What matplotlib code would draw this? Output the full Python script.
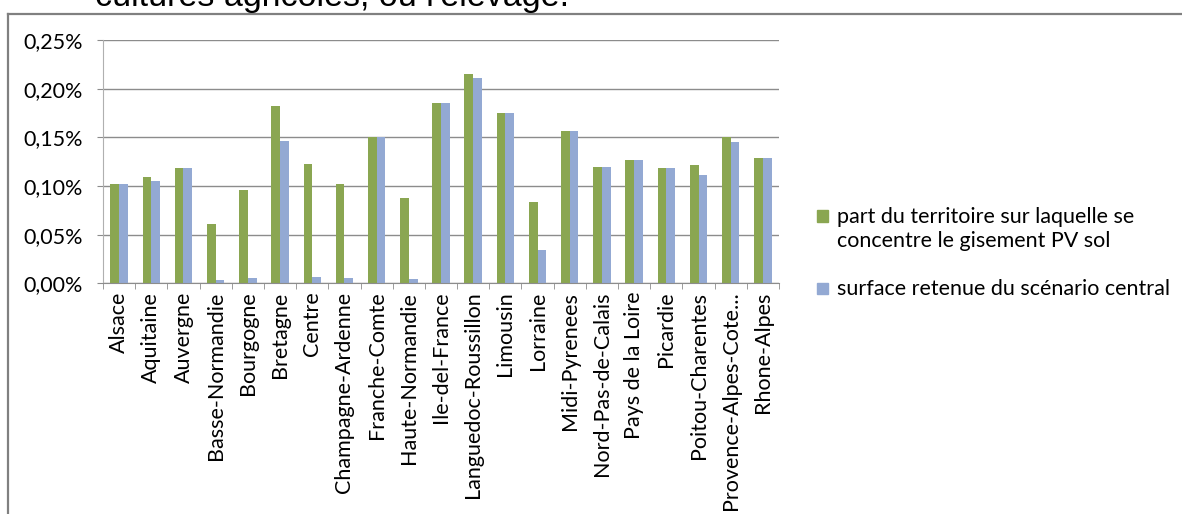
import numpy as np
import matplotlib
matplotlib.use("Agg")
import matplotlib.pyplot as plt
from matplotlib.lines import Line2D
from matplotlib.patches import Rectangle
from matplotlib.ticker import FuncFormatter, FixedLocator

regions = ["Alsace", "Aquitaine", "Auvergne", "Basse-Normandie", "Bourgogne",
           "Bretagne", "Centre", "Champagne-Ardenne", "Franche-Comte",
           "Haute-Normandie", "Ile-del-France", "Languedoc-Roussillon",
           "Limousin", "Lorraine", "Midi-Pyrenees", "Nord-Pas-de-Calais",
           "Pays de la Loire", "Picardie", "Poitou-Charentes",
           "Provence-Alpes-Cote...", "Rhone-Alpes"]
# values in %
part_territoire = [0.102, 0.109, 0.1185, 0.061, 0.0955, 0.182, 0.123, 0.102, 0.150,
                   0.088, 0.1855, 0.2155, 0.175, 0.084, 0.1565, 0.1195, 0.1265,
                   0.118, 0.122, 0.150, 0.1285]
surface_retenue = [0.102, 0.1055, 0.1185, 0.0035, 0.0055, 0.146, 0.0065, 0.0055, 0.150,
                   0.0045, 0.1855, 0.2105, 0.175, 0.034, 0.1565, 0.1195, 0.1265,
                   0.118, 0.111, 0.145, 0.1285]
labels = ["part du territoire sur laquelle se\nconcentre le gisement PV sol",
          "surface retenue du scénario central"]
colors = ['#8aa651', '#93a9d3']

W, H = 1182, 514
fig = plt.figure(figsize=(W / 100, H / 100), dpi=100)
plt.rcParams['font.family'] = ['Lato', 'DejaVu Sans']
fs = 15.5

# piece of document text above the chart (cut off)
fig.text(95 / W, 1 - 6 / H, "cultures agricoles, ou l'élevage.", fontsize=24.5,
         family='Liberation Sans', va='baseline', ha='left', color='black')

# chart frame
fig.add_artist(Line2D([8 / W, 8 / W], [0, 1 - 14 / H], color='#808080', lw=1.6))
fig.add_artist(Line2D([8 / W, 1], [1 - 14 / H, 1 - 14 / H], color='#808080', lw=1.6))

ax = fig.add_axes([103 / W, 1 - 283.3 / H, (779 - 103) / W, (283.3 - 40) / H])
x = np.arange(len(regions))
w = 0.27
ax.bar(x - w / 2, part_territoire, w, color=colors[0], label=labels[0])
ax.bar(x + w / 2, surface_retenue, w, color=colors[1], label=labels[1])

ax.set_xlim(-0.5, len(regions) - 0.5)
ax.set_ylim(0, 0.25)
ax.set_yticks(np.arange(0, 0.2501, 0.05))
ax.yaxis.set_major_formatter(FuncFormatter(lambda v, p: f"{v:.2f}%".replace('.', ',')))
ax.yaxis.grid(True, color='#8c8c8c', lw=1)
ax.set_axisbelow(True)
for s in ['top', 'right']:
    ax.spines[s].set_visible(False)
ax.spines['left'].set_color('#b0b0b0')
ax.spines['bottom'].set_color('#8c8c8c')
ax.tick_params(axis='y', length=4.3, color='#8c8c8c', pad=10, labelsize=fs)

ax.set_xticks(x)
ax.set_xticklabels(regions, rotation=90, fontsize=fs)
ax.xaxis.set_minor_locator(FixedLocator(np.arange(-0.5, len(regions), 1)))
ax.tick_params(axis='x', which='major', length=0, pad=6)
ax.tick_params(axis='x', which='minor', length=4, color='#8c8c8c')

# legend, square next to the first line of each entry
for lab, col, yc in zip(labels, colors, [216, 288]):
    fig.add_artist(Rectangle((817 / W, 1 - (yc + 5.5) / H), 11 / W, 11 / H,
                             transform=fig.transFigure, color=col))
    fig.text(837 / W, 1 - (yc - 9) / H, lab, fontsize=fs, va='top', ha='left',
             linespacing=1.27)

fig.savefig("out.png", dpi=100)
